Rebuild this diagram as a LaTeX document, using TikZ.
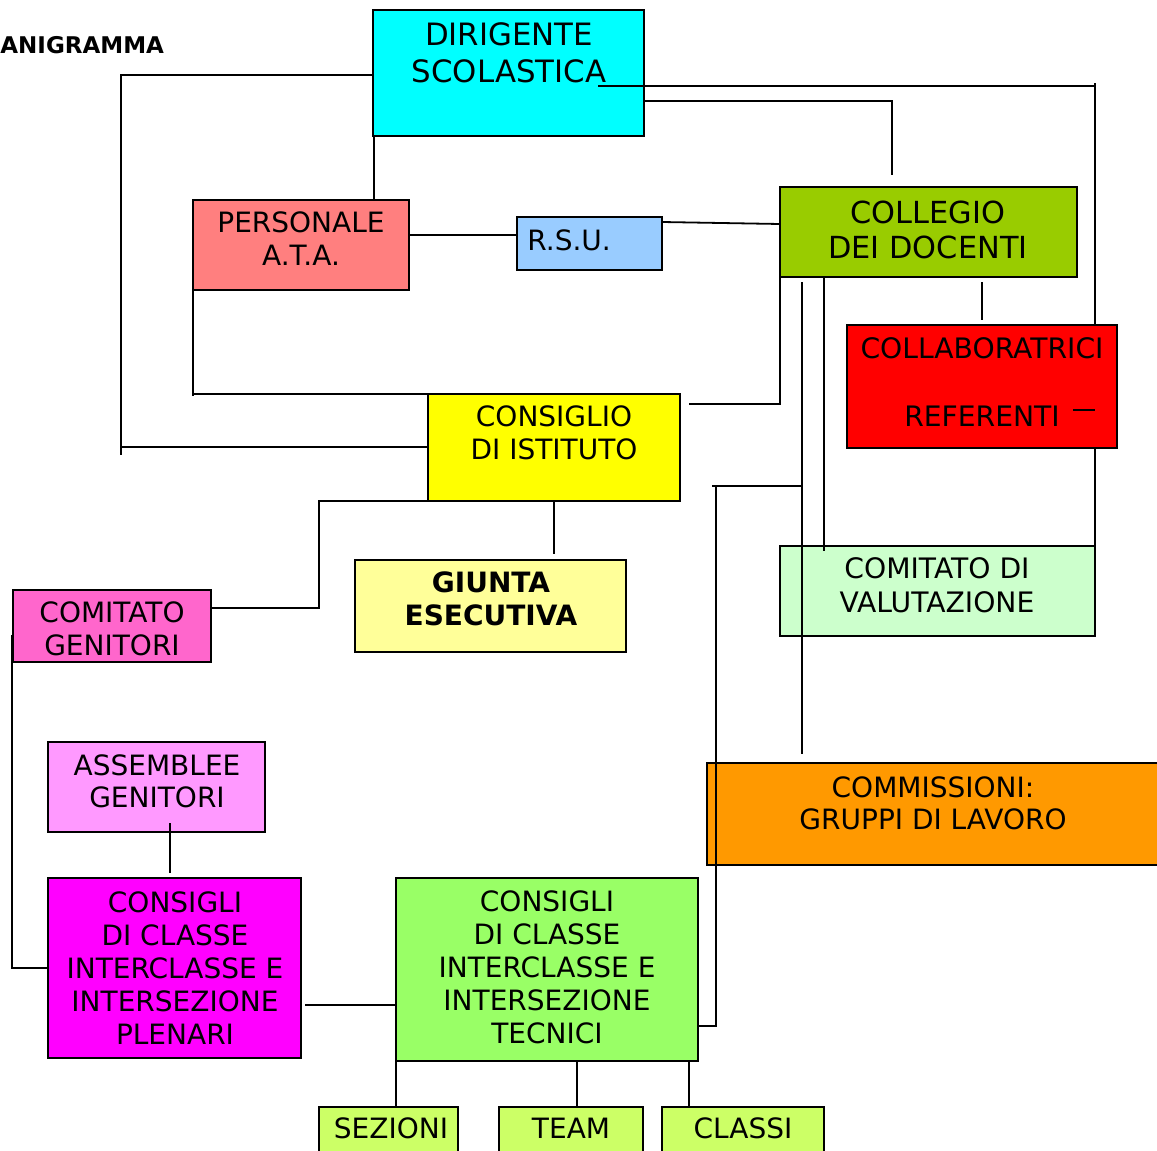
\documentclass[tikz,border=0pt]{standalone}
\usepackage{fontspec}
\setmainfont{DejaVu Sans}
\definecolor{cdir}{HTML}{00FFFF}
\definecolor{cpers}{HTML}{FF7F7F}
\definecolor{crsu}{HTML}{99CCFF}
\definecolor{ccoll}{HTML}{99CC00}
\definecolor{ccollab}{HTML}{FF0000}
\definecolor{cci}{HTML}{FFFF00}
\definecolor{cgiu}{HTML}{FFFF99}
\definecolor{ccg}{HTML}{FF66CC}
\definecolor{cval}{HTML}{CCFFCC}
\definecolor{ccom}{HTML}{FF9900}
\definecolor{cass}{HTML}{FF99FF}
\definecolor{cpl}{HTML}{FF00FF}
\definecolor{ctec}{HTML}{99FF66}
\definecolor{csmall}{HTML}{CCFF66}
\newcommand{\orgbox}[6]{\node[box, fill=#6, minimum width={(#4-#2)*0.5pt}, minimum height={(#5-#3)*0.5pt}] (#1) at ({(#2+#4)/2},{(#3+#5)/2}) {};}
\begin{document}
\begin{tikzpicture}[x=0.5pt,y=-0.5pt,
  box/.style={draw=black, line width=0.75pt, inner sep=0pt, outer sep=0pt, rectangle},
  txt/.style={align=center, inner sep=0pt, font=\fontsize{14}{16.5}\selectfont},
  big/.style={align=center, inner sep=0pt, font=\fontsize{15.4}{18.5}\selectfont},
  conn/.style={draw=black, line width=0.9pt}]
\useasboundingbox (0,0) rectangle (1157,1151);
\clip (0,0) rectangle (1157,1151);
% title
\node[anchor=west, inner sep=0pt, font=\fontsize{11.5}{14}\bfseries] (title) at (0,45) {ANIGRAMMA};
% boxes
\orgbox{dir}{373}{10}{644}{136}{cdir}
\orgbox{pers}{193}{200}{409}{290}{cpers}
\orgbox{rsu}{517}{217}{662}{270}{crsu}
\orgbox{coll}{780}{187}{1077}{277}{ccoll}
\orgbox{ci}{428}{394}{680}{501}{cci}
\orgbox{giu}{355}{560}{626}{652}{cgiu}
\orgbox{cg}{13}{590}{211}{662}{ccg}
\orgbox{val}{780}{546}{1095}{636}{cval}
\orgbox{com}{707}{763}{1170}{865}{ccom}
\orgbox{ass}{48}{742}{265}{832}{cass}
\orgbox{pl}{48}{878}{301}{1058}{cpl}
\orgbox{tec}{396}{878}{698}{1061}{ctec}
\orgbox{sez}{319}{1107}{458}{1170}{csmall}
\orgbox{team}{499}{1107}{643}{1170}{csmall}
\orgbox{cla}{662}{1107}{824}{1170}{csmall}
% line from the head to the right column (passes behind COLLABORATRICI)
\draw[conn] (598,86) -- (1095,86);
\draw[conn] (val.north east |- 0,83) coordinate (rtop) -- (val.north east);
\orgbox{collab}{847}{325}{1117}{448}{ccollab}
% texts
\node[big] (tdir) at (509,52.5) {DIRIGENTE\\SCOLASTICA};
\node[txt] (tpers) at (301,238.5) {PERSONALE\\A.T.A.};
\node[txt, anchor=west] (trsu) at (527,240) {R.S.U.};
\node[big, font=\fontsize{15.2}{17.5}\selectfont] (tcoll) at (928,229.5) {COLLEGIO\\DEI DOCENTI};
\node[txt, font=\fontsize{14.1}{17}\selectfont] (tcollab) at (982,382) {COLLABORATRICI\\[17pt]REFERENTI};
\node[txt] (tci) at (554,432.5) {CONSIGLIO\\DI ISTITUTO};
\node[txt, font=\fontsize{14}{16.5}\bfseries] (tgiu) at (491,598.5) {GIUNTA\\ESECUTIVA};
\node[txt] (tcg) at (112,628.5) {COMITATO\\GENITORI};
\node[txt, font=\fontsize{14.1}{17}\selectfont] (tval) at (937,585) {COMITATO DI\\VALUTAZIONE};
\node[txt, font=\fontsize{14}{16}\selectfont] (tcom) at (933,803) {COMMISSIONI:\\GRUPPI DI LAVORO};
\node[txt, font=\fontsize{14}{16}\selectfont] (tass) at (157,781) {ASSEMBLEE\\GENITORI};
\node[txt] (tpl) at (175,968) {CONSIGLI\\DI CLASSE\\INTERCLASSE E\\INTERSEZIONE\\PLENARI};
\node[txt] (ttec) at (547,967) {CONSIGLI\\DI CLASSE\\INTERCLASSE E\\INTERSEZIONE\\TECNICI};
\node[txt] (tsez) at (391,1128) {SEZIONI};
\node[txt] (tteam) at (571,1128) {TEAM};
\node[txt] (tcla) at (743,1128) {CLASSI};
% connectors
\draw[conn] (dir.west |- 0,75) -- (121,75) -- (121,455) coordinate (lbot);
\draw[conn] (121,447) -- (ci.west |- 0,447);
\draw[conn] (374,136) -- (374,0 |- pers.north);
\draw[conn] (pers.east |- 0,235) -- (rsu.west |- 0,235);
\draw[conn] (rsu.east |- 0,222) -- (coll.west |- 0,224);
\draw[conn] (pers.south west) -- (pers.south west |- 0,396);
\draw[conn] (ci.north west -| pers.south west) -- (ci.north west);
\draw[conn] (dir.east |- 0,101) -- (892,101) -- (892,175) coordinate (collin);
\draw[conn] (982,282) coordinate (cdown) -- (982,320) coordinate (collabin);
\draw[conn] (coll.south west) -- (coll.south west |- 0,404) -- (689,404) coordinate (ciright);
\draw[conn] (802,282) coordinate (c1) -- (802,754) coordinate (comin);
\draw[conn] (824,277) -- (824,551) coordinate (valin);
\draw[conn] (802,486) -- (712,486) coordinate (hstub);
\draw[conn] (716,486) -- (716,1026) -- (tec.east |- 0,1026);
\draw[conn] (ci.west |- 0,501) -- (319,501) -- (319,608) -- (cg.east |- 0,608);
\draw[conn] (ci.south) -- (554,554) coordinate (giuin);
\draw[conn] (12,635) -- (12,968) -- (pl.west |- 0,968);
\draw[conn] (170,823) coordinate (assout) -- (170,873) coordinate (plin);
\draw[conn] (305,1005) coordinate (plout) -- (tec.west |- 0,1005);
\draw[conn] (tec.south west) -- (tec.south west |- sez.north);
\draw[conn] (577,0 |- tec.south) -- (577,0 |- team.north);
\draw[conn] (689,0 |- tec.south) -- (689,0 |- cla.north);
\draw[conn] (1073,410) coordinate (dash) -- (1095,410);
\end{tikzpicture}
\end{document}
